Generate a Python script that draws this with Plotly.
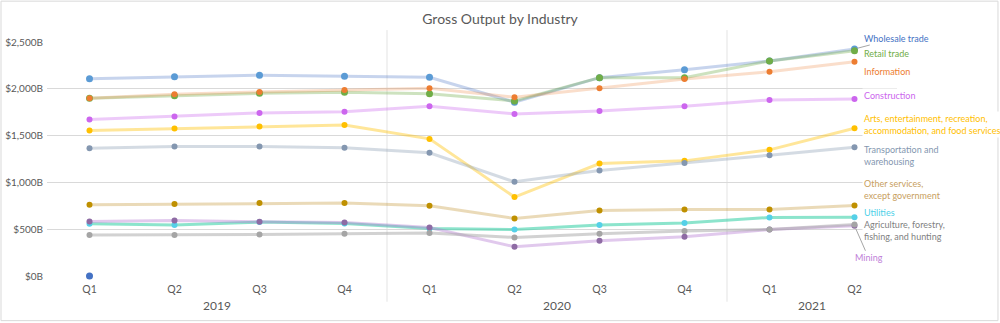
import plotly.graph_objects as go

# ---------------- data ----------------
years = ["2019", "2019", "2019", "2019", "2020", "2020", "2020", "2020", "2021", "2021"]
quarters = ["Q1", "Q2", "Q3", "Q4", "Q1", "Q2", "Q3", "Q4", "Q1", "Q2"]
periods = [f"{y} {q}" for y, q in zip(years, quarters)]

wholesale = [2108, 2130, 2145, 2134, 2123, 1857, 2119, 2204, 2297, 2425]
retail = [1899, 1927, 1952, 1963, 1948, 1870, 2119, 2119, 2297, 2407]
information = [1899, 1942, 1966, 1988, 2006, 1910, 2006, 2105, 2183, 2290]
construction = [1671, 1703, 1742, 1756, 1814, 1732, 1764, 1814, 1881, 1892]
arts = [1554, 1575, 1596, 1614, 1465, 843, 1202, 1230, 1348, 1579]
transportation = [1366, 1383, 1383, 1369, 1316, 1006, 1127, 1206, 1291, 1376]
other_services = [761, 768, 779, 779, 750, 615, 700, 711, 711, 754]
utilities = [558, 544, 576, 561, 508, 497, 544, 565, 625, 629]
mining = [583, 593, 579, 572, 519, 313, 377, 419, 497, 537]
agriculture = [437, 437, 444, 451, 459, 412, 451, 480, 497, 550]
wholesale_stray = [0]  # lone point shown at Q1 2019

y_ticks = [0, 500, 1000, 1500, 2000, 2500]
y_tick_text = [f"${v:,}B" for v in y_ticks]
year_labels = ["2019", "2020", "2021"]
year_centers = [1.5, 5.5, 8.5]
year_dividers = [3.5, 7.5]

# ---------------- style ----------------
FONT = "Lato"
LBL = 9
series = [
    # name, values, marker color, line color, marker size, label text, label color, yshift
    ("Wholesale trade", wholesale, "#5B9BD5", "rgba(68,114,196,0.30)", 7, None, "#4472C4", 0),
    ("Retail trade", retail, "#70AD47", "rgba(112,173,71,0.35)", 7, "Retail trade", "#70AD47", -3),
    ("Information", information, "#ED7D31", "rgba(237,125,49,0.25)", 6, "Information", "#ED7D31", -10),
    ("Construction", construction, "#CC66EE", "rgba(204,102,238,0.35)", 6, "Construction", "#CC66EE", 3),
    ("Arts, entertainment, recreation, accommodation, and food services", arts, "#FFC000",
     "rgba(255,192,0,0.40)", 6, "Arts, entertainment, recreation,<br>accommodation, and food services", "#FFC000", 4),
    ("Transportation and warehousing", transportation, "#8497B0", "rgba(132,151,176,0.35)", 6,
     "Transportation and<br>warehousing", "#8497B0", -8),
    ("Other services, except government", other_services, "#BF9000", "rgba(191,144,40,0.33)", 6,
     "Other services,<br>except government", "#C8A060", 16),
    ("Utilities", utilities, "#55D0E8", "rgba(64,210,170,0.60)", 6, "Utilities", "#4DD0E8", 5),
    ("Mining", mining, "#8E6BA4", "rgba(180,120,210,0.40)", 6, None, "#C080D8", 0),
    ("Agriculture, forestry, fishing, and hunting", agriculture, "#A5A5A5", "rgba(165,165,165,0.50)", 6,
     "Agriculture, forestry,<br>fishing, and hunting", "#7F7F7F", -6),
]

fig = go.Figure()
for name, vals, mcol, lcol, msize, _, _, _ in series:
    fig.add_trace(go.Scatter(
        x=periods, y=vals, mode="lines+markers", name=name,
        line=dict(color=lcol, width=3),
        marker=dict(color=mcol, size=msize),
        cliponaxis=False,
    ))

fig.add_trace(go.Scatter(
    x=periods[:1], y=wholesale_stray, mode="markers", name="Wholesale trade",
    marker=dict(color="#4472C4", size=7), cliponaxis=False,
))

annotations = []
for name, vals, mcol, lcol, msize, text, tcol, ysh in series:
    if text is None:
        continue
    annotations.append(dict(
        x=periods[-1], y=vals[-1], xref="x", yref="y", text=text, showarrow=False,
        xanchor="left", yanchor="middle", align="left", xshift=7, yshift=ysh,
        font=dict(family=FONT, size=LBL, color=tcol), bgcolor="white", borderpad=1,
    ))

# Labels with leader lines
annotations.append(dict(
    x=periods[-1], y=wholesale[-1], xref="x", yref="y", text="Wholesale trade",
    showarrow=True, arrowhead=0, arrowwidth=1, arrowcolor="#A6A6A6", ax=42, ay=-11,
    standoff=3, font=dict(family=FONT, size=LBL, color="#4472C4"), bgcolor="white", borderpad=1,
))
annotations.append(dict(
    x=periods[-1], y=mining[-1], xref="x", yref="y", text="Mining",
    showarrow=True, arrowhead=0, arrowwidth=1, arrowcolor="#A6A6A6", ax=14, ay=32,
    standoff=3, font=dict(family=FONT, size=LBL, color="#C080D8"), bgcolor="white", borderpad=1,
))

for yl, xc in zip(year_labels, year_centers):
    annotations.append(dict(
        x=xc, y=-0.127, xref="x", yref="paper", text=yl, showarrow=False,
        xanchor="center", yanchor="middle", font=dict(family=FONT, size=12, color="#595959"),
    ))

shapes = []
for xd in year_dividers:
    shapes.append(dict(type="line", xref="x", yref="paper", x0=xd, x1=xd, y0=-0.11, y1=1.051,
                       line=dict(color="#E3E3E3", width=1), layer="below"))
# chart border
shapes.append(dict(type="rect", xref="paper", yref="paper", x0=-0.0541, x1=1.1188, y0=-0.1908, y1=1.1746,
                   line=dict(color="#D9D9D9", width=1)))

fig.update_layout(
    width=1000, height=323,
    margin=dict(l=47, r=103, t=42, b=47),
    paper_bgcolor="white", plot_bgcolor="white",
    showlegend=False,
    title=dict(text="Gross Output by Industry", x=0.5, xanchor="center", y=0.94, yanchor="middle",
               font=dict(family=FONT, size=14, color="#595959")),
    font=dict(family=FONT, color="#595959"),
    annotations=annotations,
    shapes=shapes,
)
fig.update_xaxes(
    type="category", tickvals=periods, ticktext=quarters, range=[-0.5, 9.5],
    showgrid=False, zeroline=False, showline=False, ticks="", ticklabelstandoff=5,
    automargin=False,
    tickfont=dict(family=FONT, size=10.5, color="#595959"),
)
fig.update_yaxes(
    range=[0, 2500], tickvals=y_ticks, ticktext=y_tick_text,
    showgrid=True, gridcolor="#D9D9D9", gridwidth=1, zeroline=False, showline=False, ticks="",
    ticklabelstandoff=3, automargin=False,
    tickfont=dict(family=FONT, size=10, color="#595959"),
)

fig.write_html("out.html")
